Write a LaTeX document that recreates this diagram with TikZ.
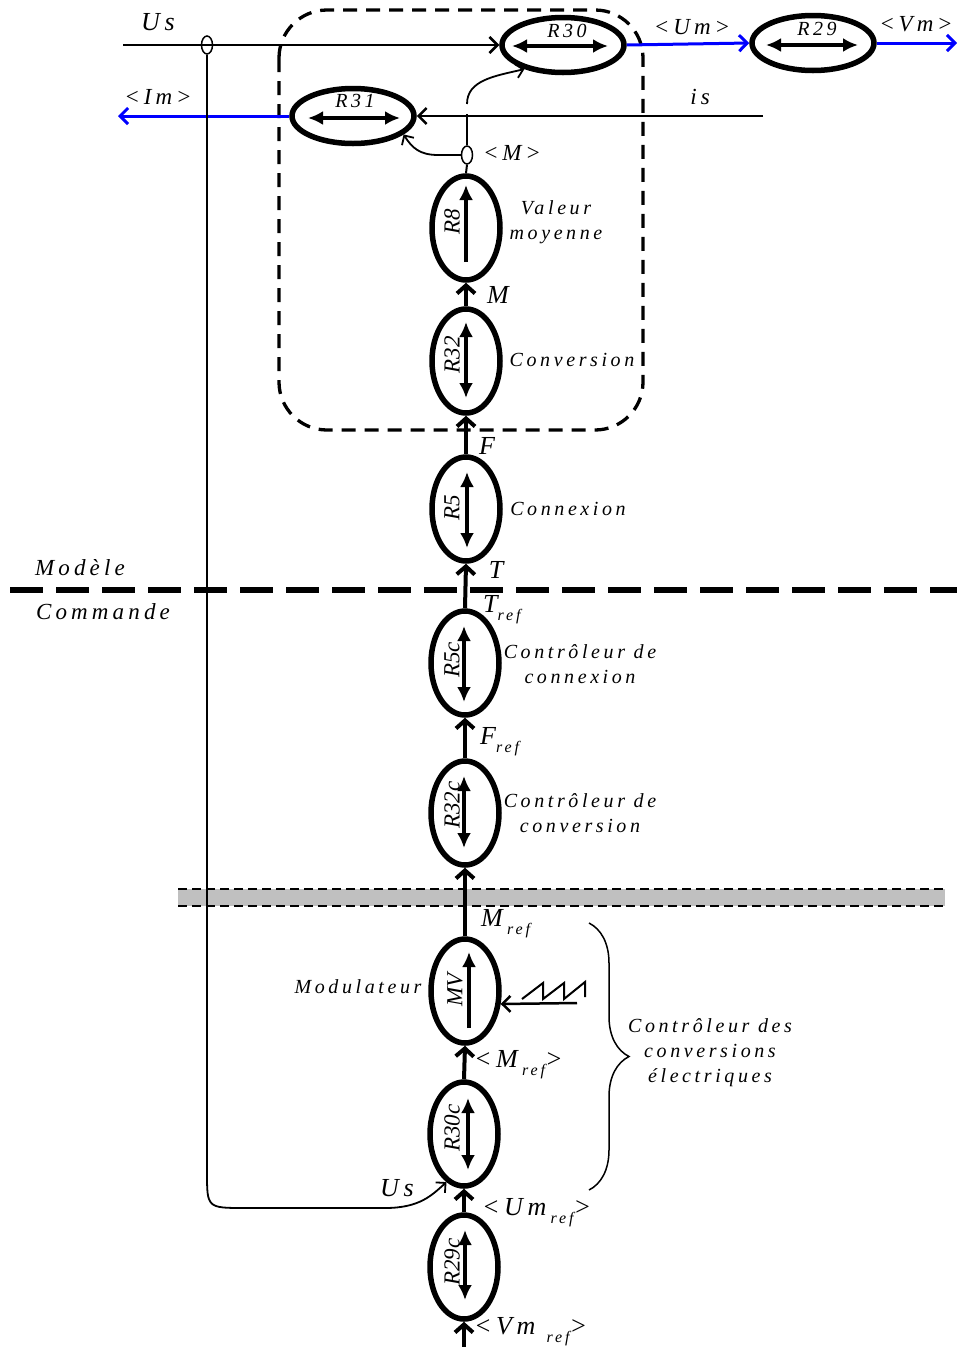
\documentclass[tikz,border=0pt]{standalone}
\usepackage{fontspec}
\setmainfont{Liberation Serif}
\newfontfamily\lsp[LetterSpace=18]{Liberation Serif}
\usetikzlibrary{shapes.geometric,arrows.meta,decorations.pathreplacing}
\definecolor{bandgray}{RGB}{192,192,192}
\definecolor{lineblue}{RGB}{0,0,255}
\newcommand{\sbr}[1]{\raisebox{-0.3em}{\fontsize{16}{16}\selectfont\lsp\itshape #1}}
\begin{document}
\begin{tikzpicture}[x=1pt,y=-1pt,
 vell/.style={ellipse,draw,line width=5.5pt,minimum width=68pt,minimum height=104pt,inner sep=0pt},
 hell/.style={ellipse,draw,line width=5.5pt,minimum width=122pt,minimum height=55pt,inner sep=0pt},
 junc/.style={ellipse,draw,line width=1.5pt,minimum width=11pt,minimum height=18pt,inner sep=0pt},
 conn/.style={line width=4pt,-{Straight Barb[length=8pt,width=18pt]}},
 sig/.style={line width=2.5pt,-{Straight Barb[length=8pt,width=16pt]}},
 thinsig/.style={line width=1.8pt,-{Straight Barb[length=7pt,width=14pt]}},
 bsig/.style={line width=3pt,draw=lineblue,-{Straight Barb[length=8pt,width=16pt]}},
 dbl/.style={line width=4pt,{Latex[length=15pt,width=14pt]}-{Latex[length=15pt,width=14pt]}},
 sgl/.style={line width=4pt,-{Latex[length=15pt,width=14pt]}},
 rlab/.style={rotate=90,font=\fontsize{23}{23}\selectfont\itshape,inner sep=0pt},
 lab/.style={font=\fontsize{20}{25}\selectfont\lsp\itshape,inner sep=0pt,align=center},
 var/.style={font=\fontsize{26}{26}\selectfont\lsp\itshape,inner sep=0pt},
 svar/.style={font=\fontsize{23}{23}\selectfont\lsp\itshape,inner sep=0pt},
]
\useasboundingbox (0,0) rectangle (957,1347);

% band and separators
\fill[bandgray] (178,889) rectangle (945,906);
\draw[line width=2pt,dash pattern=on 9pt off 5pt] (178,889) -- (945,889);
\draw[line width=2pt,dash pattern=on 9pt off 5pt] (178,906) -- (945,906);
\draw[line width=5.5pt,dash pattern=on 33pt off 13pt] (10,590) -- (957,590);
\draw[line width=3.3pt,dash pattern=on 14pt off 9pt,rounded corners=48pt] (279,10) rectangle (643,430);

% horizontal blocks
\node[hell] (R30) at (563,45) {};
\node[hell] (R29) at (813,43) {};
\node[hell] (R31) at (353,116) {};
% vertical blocks
\node[vell] (R8) at (466,228) {};
\node[vell] (R32) at (466,361) {};
\node[vell] (R5) at (466,509) {};
\node[vell] (R5c) at (465,663) {};
\node[vell] (R32c) at (465,813) {};
\node[vell] (MV) at (465,991) {};
\node[vell] (R30c) at (464,1134) {};
\node[vell] (R29c) at (464,1267) {};
% junctions
\node[junc] (usj) at (207,45) {};
\node[junc] (mj) at (467,155) {};

\coordinate (usstart) at (123,45);
\coordinate (imend) at (118,116);
\coordinate (vmend) at (957,43);
\coordinate (isstart) at (763,116);
\coordinate (mtop) at (467,114);
\coordinate (mup) at (467,104);
\coordinate (vmin) at (464,1347);
\coordinate (sawin) at (577,1003);

% top signals
\draw[sig] (usstart) -- (R30.west);
\draw[bsig] (R30.east) -- (R29.west);
\draw[bsig] (R29.east) -- (vmend);
\draw[bsig] (R31.west) -- (imend);
\draw[sig] (isstart) -- (R31.east);
\draw[line width=2pt] (R8.north) -- (mj.south);
\draw[line width=2pt] (mj.north) -- (mtop);
\draw[thinsig] (mup) .. controls (467,80) and (495,76) .. (R30.212);
\draw[thinsig] (mj.west) -- (438,155) .. controls (420,155) and (412,148) .. (R31.-20);
\draw[thinsig] (usj.south) -- (207,1172) .. controls (207,1208) .. (245,1208) -- (385,1208) .. controls (420,1208) and (432,1195) .. (R30c.250);

% main chain
\draw[conn] (vmin) -- (R29c.south);
\draw[conn] (R29c.north) -- (R30c.south);
\draw[conn] (R30c.north) -- (MV.south);
\draw[conn] (MV.north) -- (R32c.south);
\draw[conn] (R32c.north) -- (R5c.south);
\draw[conn] (R5c.north) -- (R5.south);
\draw[conn] (R5.north) -- (R32.south);
\draw[conn] (R32.north) -- (R8.south);

% inner arrows
\draw[dbl] ([xshift=-51pt,yshift=-1pt]R30.center) -- ([xshift=45pt,yshift=-1pt]R30.center);
\draw[dbl] ([xshift=-47pt,yshift=-2pt]R29.center) -- ([xshift=45pt,yshift=-2pt]R29.center);
\draw[dbl] ([xshift=-45pt,yshift=-2pt]R31.center) -- ([xshift=47pt,yshift=-2pt]R31.center);
\draw[sgl] ([yshift=-34pt]R8.center) -- ([yshift=43pt]R8.center);
\draw[dbl] ([yshift=-37pt]R32.center) -- ([yshift=39pt]R32.center);
\draw[dbl] ([xshift=1pt,yshift=-39pt]R5.center) -- ([xshift=1pt,yshift=37pt]R5.center);
\draw[dbl] ([xshift=-1pt,yshift=-39pt]R5c.center) -- ([xshift=-1pt,yshift=37pt]R5c.center);
\draw[dbl] ([xshift=-1pt,yshift=-35pt]R32c.center) -- ([xshift=-1pt,yshift=37pt]R32c.center);
\draw[sgl] ([xshift=4pt,yshift=-37pt]MV.center) -- ([xshift=4pt,yshift=39pt]MV.center);
\draw[dbl] ([xshift=4pt,yshift=-36pt]R30c.center) -- ([xshift=4pt,yshift=36pt]R30c.center);
\draw[dbl] ([xshift=1pt,yshift=-33pt]R29c.center) -- ([xshift=1pt,yshift=37pt]R29c.center);

% sawtooth carrier
\draw[line width=2pt] (522,999) -- (543,983) -- (543,999) -- (564,983) -- (564,999) -- (585,982) -- (585,997);
\draw[sig] (sawin) -- (MV.-20);

% brace
\draw[line width=1.5pt,decorate,decoration={brace,amplitude=40pt,aspect=0.5}] (589,923) -- (589,1190);

% block labels
\node[lab,font=\fontsize{20}{20}\selectfont\lsp\itshape] (R30t) at (567,31) {R30};
\node[lab,font=\fontsize{20}{20}\selectfont\lsp\itshape] (R29t) at (817,29) {R29};
\node[lab,font=\fontsize{20}{20}\selectfont\lsp\itshape] (R31t) at (355,101) {R31};
\node[rlab] (R8t) at (452,222) {R8};
\node[rlab] (R32t) at (452,355) {R32};
\node[rlab] (R5t) at (452,508) {R5};
\node[rlab] (R5ct) at (452,660) {R5c};
\node[rlab] (R32ct) at (452,805) {R32c};
\node[rlab] (MVt) at (455,990) {MV};
\node[rlab] (R30ct) at (452,1128) {R30c};
\node[rlab] (R29ct) at (452,1262) {R29c};

% variable labels
\node[var] (usl) at (158,22) {Us};
\node[svar] (iml) at (158,97) {<\,Im\,>};
\node[svar] (uml) at (692,27) {<\,Um\,>};
\node[svar] (vml) at (916,24) {<\,Vm\,>};
\node[svar] (isl) at (700,97) {is};
\node[svar] (mml) at (512,153) {<\,M\,>};
\node[var] (ml) at (498,295) {M};
\node[var] (fl) at (487,446) {F};
\node[var] (tl) at (496,570) {T};
\node[var,anchor=west] (trefl) at (483,610) {T\sbr{ref}};
\node[var,anchor=west] (frefl) at (480,742) {F\sbr{ref}};
\node[var,anchor=west] (mrefl) at (481,924) {M\,\sbr{ref}};
\node[var,anchor=west] (amrefl) at (474,1065) {<\,M\,\sbr{ref}>};
\node[var] (us2l) at (397,1188) {Us};
\node[var,anchor=west] (umrefl) at (482,1213) {<\,Um\,\sbr{ref}>};
\node[var,anchor=west] (vmrefl) at (474,1332) {<\,Vm \sbr{ref}>};

% descriptive labels
\node[lab] (valeur) at (556,222) {Valeur\\moyenne};
\node[lab] (conv) at (572,360) {Conversion};
\node[lab] (connex) at (568,509) {Connexion};
\node[lab] (ctrlconn) at (580,664) {Contrôleur de\\connexion};
\node[lab] (ctrlconv) at (580,813) {Contrôleur de\\conversion};
\node[lab] (modul) at (358,987) {Modulateur};
\node[lab] (ctrlel) at (710,1053) {Contrôleur des\\conversions\\électriques};
\node[lab,font=\fontsize{23}{23}\selectfont\lsp\itshape] (modele) at (80,568) {Modèle};
\node[lab,font=\fontsize{23}{23}\selectfont\lsp\itshape] (commande) at (103,612) {Commande};
\end{tikzpicture}
\end{document}
